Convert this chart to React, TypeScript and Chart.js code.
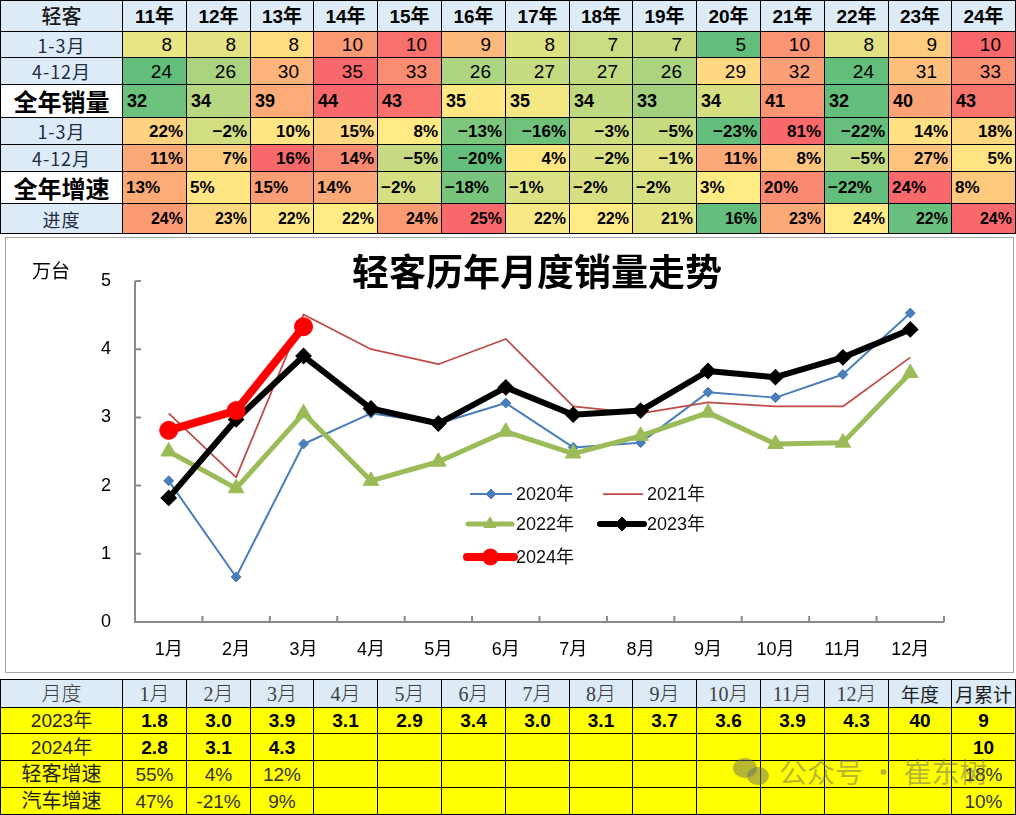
import React, { useEffect, useRef } from 'react';
import { Chart, registerables } from 'chart.js';
Chart.register(...registerables);

// ---------- chart data ----------
const months = ['1月', '2月', '3月', '4月', '5月', '6月', '7月', '8月', '9月', '10月', '11月', '12月'];
const s2020 = [2.07, 0.66, 2.61, 3.06, 2.91, 3.21, 2.56, 2.63, 3.37, 3.29, 3.63, 4.53];
const s2021 = [3.06, 2.12, 4.51, 4.0, 3.78, 4.15, 3.16, 3.06, 3.22, 3.16, 3.16, 3.88];
const s2022 = [2.5, 1.96, 3.06, 2.07, 2.35, 2.79, 2.47, 2.73, 3.07, 2.61, 2.63, 3.65];
const s2023 = [1.82, 2.97, 3.9, 3.13, 2.91, 3.44, 3.04, 3.1, 3.68, 3.59, 3.88, 4.29];
const s2024 = [2.81, 3.1, 4.33];
const yTicks = [0, 1, 2, 3, 4, 5];

// ---------- top table data ----------
const years = ['11年', '12年', '13年', '14年', '15年', '16年', '17年', '18年', '19年', '20年', '21年', '22年', '23年', '24年'];
const q1Sales = [8, 8, 8, 10, 10, 9, 8, 7, 7, 5, 10, 8, 9, 10];
const restSales = [24, 26, 30, 35, 33, 26, 27, 27, 26, 29, 32, 24, 31, 33];
const fullSales = [32, 34, 39, 44, 43, 35, 35, 34, 33, 34, 41, 32, 40, 43];
const q1Growth = ['22%', '−2%', '10%', '15%', '8%', '−13%', '−16%', '−3%', '−5%', '−23%', '81%', '−22%', '14%', '18%'];
const restGrowth = ['11%', '7%', '16%', '14%', '−5%', '−20%', '4%', '−2%', '−1%', '11%', '8%', '−5%', '27%', '5%'];
const fullGrowth = ['13%', '5%', '15%', '14%', '−2%', '−18%', '−1%', '−2%', '−2%', '3%', '20%', '−22%', '24%', '8%'];
const progress = ['24%', '23%', '22%', '22%', '24%', '25%', '22%', '22%', '21%', '16%', '23%', '24%', '22%', '24%'];

// cell colours (conditional formatting look)
const q1SalesColors = ['#E8E583', '#E3E383', '#FFDD82', '#FB9B74', '#F8716C', '#FDB97B', '#DCE182', '#C9DC81', '#C6DB80', '#63BE7B', '#FA9473', '#E1E283', '#FECC7F', '#F8696B'];
const restSalesColors = ['#63BE7B', '#AAD380', '#FDB37A', '#F8696B', '#FA8C72', '#ADD47F', '#C5DB80', '#C2DA80', '#ACD37F', '#FFD882', '#FB9F76', '#63BE7B', '#FDC07C', '#FA9272'];
const fullSalesColors = ['#6CC17C', '#B7D780', '#FCAA77', '#F8696B', '#F8716C', '#FFE784', '#F3E783', '#BFD980', '#A3D07F', '#D5DF82', '#FA9673', '#63BE7B', '#FBA376', '#F8756D'];
const q1GrowthColors = ['#FED280', '#D2DE82', '#FFE583', '#FED981', '#FFEA84', '#7DC67D', '#6EC27C', '#D0DE82', '#C5DB80', '#63BE7B', '#F8696B', '#66BF7C', '#FFE082', '#FED881'];
const restGrowthColors = ['#FBAA77', '#FDCC7E', '#F8696B', '#F98A71', '#C6DB81', '#63BE7B', '#FFE883', '#D9E082', '#E0E283', '#FCA877', '#FEC57D', '#C4DA80', '#FDC37D', '#FFE483'];
const fullGrowthColors = ['#FCAB77', '#FFE583', '#FB9D75', '#FCA877', '#D6DF82', '#78C47D', '#DBE182', '#D5DF82', '#D7E082', '#FFEB84', '#F98A71', '#63BE7B', '#F8696B', '#FDC97D'];
const progressColors = ['#FA9B74', '#FED880', '#FFE884', '#FFEA84', '#FA9B74', '#F8696B', '#F6E884', '#FFEA84', '#E4E483', '#63BE7B', '#FBAA77', '#FFEA84', '#69C07C', '#F8696B'];

// ---------- bottom table data ----------
const annual2023 = '40';
const ytd2023 = '9';
const ytd2024 = '10';
const lcvGrowth = ['55%', '4%', '12%'];
const lcvGrowthYtd = '18%';
const autoGrowth = ['47%', '-21%', '9%'];
const autoGrowthYtd = '10%';

const SANS = '"Liberation Sans", "Noto Sans CJK SC", sans-serif';
const CJK = '"Noto Sans CJK SC", "Liberation Sans", sans-serif';
const SERIF = '"Liberation Serif", "Noto Sans CJK SC", serif';
const NARROW = '"Liberation Sans Narrow", "Liberation Sans", sans-serif';

const colX = Array.from({ length: 16 }, (_, i) => (i === 0 ? 0 : Math.round(122 + (i - 1) * 63.8)));
const topRowY = [0, 31, 57, 84, 117, 144, 171, 203, 233];
const botRowY = [679, 707, 733, 760, 787, 814];

function Cell(props: any) {
  const { x0, x1, y0, y1, bg, justify = 'center', padL = 0, padR = 0, style, children } = props;
  return (
    <div
      style={{
        position: 'absolute',
        left: x0,
        top: y0,
        width: x1 - x0 + 1,
        height: y1 - y0 + 1,
        boxSizing: 'border-box',
        border: '1px solid #000',
        background: bg,
        display: 'flex',
        alignItems: 'center',
        justifyContent: justify,
        paddingLeft: padL,
        paddingRight: padR,
        whiteSpace: 'nowrap',
        overflow: 'hidden',
        lineHeight: 1,
        ...style,
      }}
    >
      {children}
    </div>
  );
}

const HEADER_BG = '#DDEBF7';

function TopTable() {
  const rows = [
    { label: '1-3月', main: false, vals: q1Sales.map(String), colors: q1SalesColors, justify: 'flex-end', padL: 0, padR: 14, font: { fontFamily: SANS, fontSize: 19 } },
    { label: '4-12月', main: false, vals: restSales.map(String), colors: restSalesColors, justify: 'flex-end', padL: 0, padR: 14, font: { fontFamily: SANS, fontSize: 19 } },
    { label: '全年销量', main: true, vals: fullSales.map(String), colors: fullSalesColors, justify: 'flex-start', padL: 4, padR: 0, font: { fontFamily: SANS, fontSize: 18, fontWeight: 700 } },
    { label: '1-3月', main: false, vals: q1Growth, colors: q1GrowthColors, justify: 'flex-end', padL: 0, padR: 3, font: { fontFamily: SANS, fontSize: 17, fontWeight: 700 } },
    { label: '4-12月', main: false, vals: restGrowth, colors: restGrowthColors, justify: 'flex-end', padL: 0, padR: 3, font: { fontFamily: SANS, fontSize: 17, fontWeight: 700 } },
    { label: '全年增速', main: true, vals: fullGrowth, colors: fullGrowthColors, justify: 'flex-start', padL: 3, padR: 0, font: { fontFamily: SANS, fontSize: 17, fontWeight: 700 } },
    { label: '进度', main: false, vals: progress, colors: progressColors, justify: 'flex-end', padL: 0, padR: 3, font: { fontFamily: SANS, fontSize: 16, fontWeight: 700 } },
  ];
  const cells: any[] = [];
  cells.push(
    <Cell key="h0" x0={colX[0]} x1={colX[1]} y0={topRowY[0]} y1={topRowY[1]} bg={HEADER_BG} style={{ fontFamily: CJK, fontSize: 20, fontWeight: 500, color: '#1a1a1a' }}>
      轻客
    </Cell>
  );
  years.forEach((y, i) =>
    cells.push(
      <Cell key={'h' + (i + 1)} x0={colX[i + 1]} x1={colX[i + 2]} y0={topRowY[0]} y1={topRowY[1]} bg={HEADER_BG} style={{ fontFamily: SANS, fontSize: 19, fontWeight: 700, color: '#000' }}>
        {y}
      </Cell>
    )
  );
  rows.forEach((r, ri) => {
    const y0 = topRowY[ri + 1];
    const y1 = topRowY[ri + 2];
    cells.push(
      <Cell
        key={'l' + ri}
        x0={colX[0]}
        x1={colX[1]}
        y0={y0}
        y1={y1}
        bg={r.main ? '#fff' : HEADER_BG}
        style={r.main ? { fontFamily: CJK, fontSize: 24, fontWeight: 700, color: '#000' } : { fontFamily: CJK, fontSize: 18, fontWeight: 400, color: '#1F2A44', letterSpacing: 1 }}
      >
        {r.label}
      </Cell>
    );
    r.vals.forEach((v, i) =>
      cells.push(
        <Cell key={'c' + ri + '_' + i} x0={colX[i + 1]} x1={colX[i + 2]} y0={y0} y1={y1} bg={r.colors[i]} justify={r.justify} padL={r.padL} padR={r.padR} style={{ ...r.font, color: '#000' }}>
          {v}
        </Cell>
      )
    );
  });
  return <>{cells}</>;
}

function BottomTable() {
  const cells: any[] = [];
  const Y = '#FFFF00';
  const hdr = ['月度', ...months];
  hdr.forEach((h, i) =>
    cells.push(
      <Cell key={'bh' + i} x0={colX[i]} x1={colX[i + 1]} y0={botRowY[0]} y1={botRowY[1]} bg={HEADER_BG} style={{ fontFamily: SERIF, fontSize: 20, color: '#404040', fontWeight: 300 }}>
        {h}
      </Cell>
    )
  );
  cells.push(
    <Cell key="bh13" x0={colX[13]} x1={colX[14]} y0={botRowY[0]} y1={botRowY[1]} bg={HEADER_BG} style={{ fontFamily: CJK, fontSize: 19, color: '#222' }}>
      年度
    </Cell>
  );
  cells.push(
    <Cell key="bh14" x0={colX[14]} x1={colX[15]} y0={botRowY[0]} y1={botRowY[1]} bg={HEADER_BG} style={{ fontFamily: CJK, fontSize: 19, color: '#222' }}>
      月累计
    </Cell>
  );
  const rows = [
    { label: '2023年', vals: s2023.map((v) => v.toFixed(1)), extra: [annual2023, ytd2023], font: { fontFamily: SANS, fontSize: 19, fontWeight: 700, color: '#000' } },
    { label: '2024年', vals: s2024.map((v) => v.toFixed(1)), extra: ['', ytd2024], font: { fontFamily: SANS, fontSize: 19, fontWeight: 700, color: '#000' } },
    { label: '轻客增速', vals: lcvGrowth, extra: ['', lcvGrowthYtd], font: { fontFamily: NARROW, fontSize: 19, color: '#333' } },
    { label: '汽车增速', vals: autoGrowth, extra: ['', autoGrowthYtd], font: { fontFamily: NARROW, fontSize: 19, color: '#333' } },
  ];
  rows.forEach((r, ri) => {
    const y0 = botRowY[ri + 1];
    const y1 = botRowY[ri + 2];
    cells.push(
      <Cell key={'bl' + ri} x0={colX[0]} x1={colX[1]} y0={y0} y1={y1} bg={Y} style={{ fontFamily: SANS, fontSize: ri < 2 ? 19 : 20, color: '#222' }}>
        {r.label}
      </Cell>
    );
    for (let i = 0; i < 14; i++) {
      const v = i < 12 ? r.vals[i] || '' : r.extra[i - 12];
      cells.push(
        <Cell key={'bc' + ri + '_' + i} x0={colX[i + 1]} x1={colX[i + 2]} y0={y0} y1={y1} bg={Y} style={r.font}>
          {v}
        </Cell>
      );
    }
  });
  return <>{cells}</>;
}

function Watermark() {
  const c = 'rgba(110,110,100,0.5)';
  return (
    <div style={{ position: 'absolute', left: 733, top: 753, width: 280, height: 40, pointerEvents: 'none' }}>
      <div style={{ position: 'absolute', left: 0, top: 5, width: 24, height: 20, borderRadius: '50%', background: c }} />
      <div style={{ position: 'absolute', left: 14, top: 14, width: 22, height: 18, borderRadius: '50%', background: c }} />
      <div style={{ position: 'absolute', left: 46, top: 4, fontFamily: CJK, fontSize: 28, color: c, lineHeight: 1, whiteSpace: 'nowrap' }}>公众号 · 崔东树</div>
    </div>
  );
}

function drawMarker(ctx: CanvasRenderingContext2D, style: string, x: number, y: number, r: number, color: string) {
  ctx.save();
  ctx.fillStyle = color;
  ctx.strokeStyle = color;
  ctx.lineWidth = 1;
  ctx.beginPath();
  if (style === 'rectRot') {
    ctx.moveTo(x, y - r);
    ctx.lineTo(x + r, y);
    ctx.lineTo(x, y + r);
    ctx.lineTo(x - r, y);
    ctx.closePath();
  } else if (style === 'triangle') {
    ctx.moveTo(x, y - r);
    ctx.lineTo(x + r * 0.866, y + r * 0.5);
    ctx.lineTo(x - r * 0.866, y + r * 0.5);
    ctx.closePath();
  } else if (style === 'circle') {
    ctx.arc(x, y, r, 0, Math.PI * 2);
  }
  if (style) {
    ctx.fill();
    ctx.stroke();
  }
  ctx.restore();
}

const legendLayout = [
  { x0: 465, x1: 507, tx: 511, y: 257, r: 5 },
  { x0: 598, x1: 638, tx: 642, y: 257, r: 0 },
  { x0: 463, x1: 507, tx: 511, y: 287, r: 7 },
  { x0: 595, x1: 639, tx: 642, y: 287, r: 7 },
  { x0: 462, x1: 509, tx: 511, y: 320, r: 8 },
];

const axesPlugin = {
  id: 'customAxes',
  beforeDatasetsDraw(chart: any) {
    const { ctx, chartArea, scales } = chart;
    const x = scales.x;
    const y = scales.y;
    ctx.save();
    ctx.strokeStyle = '#8a8a8a';
    ctx.lineWidth = 2;
    ctx.beginPath();
    ctx.moveTo(chartArea.left, chartArea.top);
    ctx.lineTo(chartArea.left, chartArea.bottom);
    ctx.lineTo(chartArea.right, chartArea.bottom);
    yTicks.forEach((v) => {
      const py = y.getPixelForValue(v);
      ctx.moveTo(chartArea.left, py);
      ctx.lineTo(chartArea.left + 6, py);
    });
    for (let k = 1; k <= months.length; k++) {
      const px = x.left + (k * x.width) / months.length;
      ctx.moveTo(px, chartArea.bottom);
      ctx.lineTo(px, chartArea.bottom - 6);
    }
    ctx.stroke();
    ctx.restore();
  },
};

const legendPlugin = {
  id: 'customLegend',
  afterDraw(chart: any) {
    const { ctx } = chart;
    chart.data.datasets.forEach((ds: any, i: number) => {
      const L = legendLayout[i];
      ctx.save();
      ctx.strokeStyle = ds.borderColor;
      ctx.lineWidth = ds.borderWidth;
      ctx.lineCap = ds.borderWidth > 3 ? 'round' : 'butt';
      ctx.beginPath();
      ctx.moveTo(L.x0, L.y);
      ctx.lineTo(L.x1, L.y);
      ctx.stroke();
      ctx.restore();
      if (ds.pointRadius > 0) drawMarker(ctx, ds.pointStyle, (L.x0 + L.x1) / 2, L.y, L.r, ds.pointBackgroundColor);
      ctx.save();
      ctx.fillStyle = '#111';
      ctx.font = '18px ' + SANS;
      ctx.textBaseline = 'middle';
      ctx.textAlign = 'left';
      ctx.fillText(ds.label, L.tx, L.y + 1);
      ctx.restore();
    });
  },
};

export default function App() {
  const ref = useRef<HTMLCanvasElement>(null);
  useEffect(() => {
    const chart = new Chart(ref.current as HTMLCanvasElement, {
      type: 'line',
      data: {
        labels: months,
        datasets: [
          { label: '2020年', data: s2020, borderColor: '#4A7EBB', backgroundColor: '#4A7EBB', borderWidth: 2, pointStyle: 'rectRot', pointRadius: 5, pointBackgroundColor: '#4A7EBB', pointBorderColor: '#4A7EBB', pointBorderWidth: 1, order: 4, borderJoinStyle: 'round' },
          { label: '2021年', data: s2021, borderColor: '#BE4B48', backgroundColor: '#BE4B48', borderWidth: 1.75, pointRadius: 0, pointStyle: false, pointBackgroundColor: '#BE4B48', order: 3, borderJoinStyle: 'round' },
          { label: '2022年', data: s2022, borderColor: '#9BBB59', backgroundColor: '#9BBB59', borderWidth: 5, pointStyle: 'triangle', pointRadius: 9, pointBackgroundColor: '#9BBB59', pointBorderColor: '#9BBB59', pointBorderWidth: 1, order: 2, borderJoinStyle: 'round' },
          { label: '2023年', data: s2023, borderColor: '#000000', backgroundColor: '#000000', borderWidth: 6, pointStyle: 'rectRot', pointRadius: 7, pointBackgroundColor: '#000000', pointBorderColor: '#000000', pointBorderWidth: 2, order: 1, borderJoinStyle: 'round' },
          { label: '2024年', data: s2024, borderColor: '#FF0000', backgroundColor: '#FF0000', borderWidth: 8, pointStyle: 'circle', pointRadius: 9, pointBackgroundColor: '#FF0000', pointBorderColor: '#FF0000', pointBorderWidth: 1, order: 0, borderJoinStyle: 'round' },
        ] as any,
      },
      options: {
        animation: false,
        responsive: false,
        devicePixelRatio: 1,
        layout: { padding: { top: 44, right: 70, left: 0, bottom: 0 } },
        plugins: { legend: { display: false }, tooltip: { enabled: false }, title: { display: false } },
        elements: { line: { tension: 0 } },
        scales: {
          x: {
            type: 'category',
            offset: true,
            grid: { display: false, drawTicks: false },
            border: { display: false },
            ticks: { color: '#000', font: { size: 18, family: SANS }, padding: 17, maxRotation: 0, autoSkip: false },
            afterFit: (s: any) => {
              s.height = 51;
            },
          },
          y: {
            min: 0,
            max: 5,
            grid: { display: false, drawTicks: false },
            border: { display: false },
            ticks: { stepSize: 1, color: '#000', font: { size: 18, family: SANS }, padding: 24 },
            afterFit: (s: any) => {
              s.width = 130;
            },
          },
        },
      } as any,
      plugins: [axesPlugin, legendPlugin],
    });
    return () => chart.destroy();
  }, []);

  return (
    <div style={{ position: 'absolute', left: 0, top: 0, width: 1016, height: 815, background: '#fff', overflow: 'hidden', fontFamily: SANS }}>
      <TopTable />
      <div style={{ position: 'absolute', left: 5, top: 237, width: 1009, height: 436, border: '1px solid #a6a6a6', boxSizing: 'border-box' }} />
      <canvas ref={ref} width={1009} height={436} style={{ position: 'absolute', left: 5, top: 237, width: 1009, height: 436 }} />
      <div style={{ position: 'absolute', left: 287, top: 252, width: 500, textAlign: 'center', fontFamily: CJK, fontSize: 37, fontWeight: 700, lineHeight: 1, color: '#000' }}>
        轻客历年月度销量走势
      </div>
      <div style={{ position: 'absolute', left: 32, top: 260, fontFamily: CJK, fontSize: 19, lineHeight: 1, color: '#000' }}>万台</div>
      <BottomTable />
      <Watermark />
    </div>
  );
}
